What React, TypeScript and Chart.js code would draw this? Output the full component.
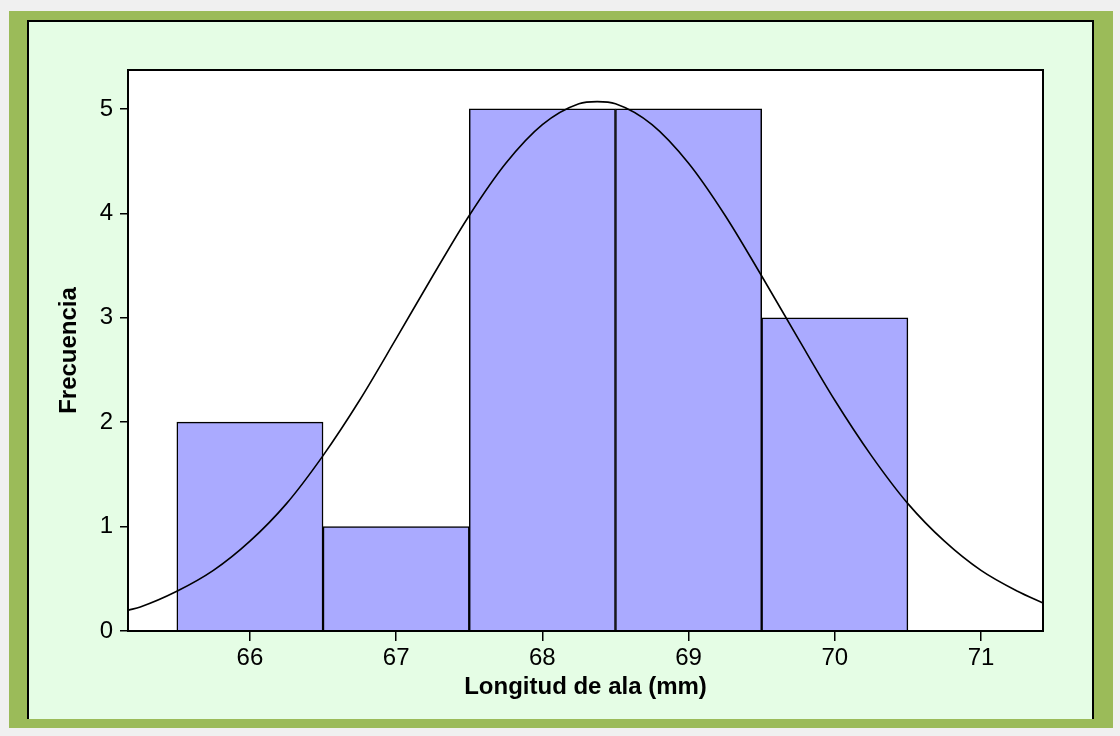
import React, { useEffect, useRef } from "react";
import { Chart, registerables } from "chart.js";

Chart.register(...registerables);

// Histogram bins (centres, mm) and counts
const binCenters = [66, 67, 68, 69, 70];
const frequencies = [2, 1, 5, 5, 3];

// Fitted normal curve, sampled along the axis
const curveX = [
  65.17, 65.25, 65.5, 65.75, 66.0, 66.25, 66.5, 66.75, 67.0, 67.25, 67.5, 67.75, 68.0, 68.25,
  68.375, 68.5, 68.75, 69.0, 69.25, 69.5, 69.75, 70.0, 70.25, 70.5, 70.75, 71.0, 71.25, 71.42,
];
const curveY = [
  0.2, 0.23, 0.38, 0.58, 0.86, 1.22, 1.68, 2.21, 2.8, 3.4, 3.98, 4.48, 4.85, 5.05,
  5.07, 5.05, 4.85, 4.48, 3.98, 3.4, 2.8, 2.21, 1.68, 1.22, 0.86, 0.58, 0.38, 0.27,
];

const xTicks = [66, 67, 68, 69, 70, 71];
const yTicks = [0, 1, 2, 3, 4, 5];

const xTitle = "Longitud de ala (mm)";
const yTitle = "Frecuencia";

const FONT = "'Liberation Sans', Arial, sans-serif";

// White plot area with a black frame around it
const plotFrame = {
  id: "plotFrame",
  beforeDatasetsDraw(chart: any) {
    const { ctx, chartArea } = chart;
    ctx.save();
    ctx.fillStyle = "#fff";
    ctx.fillRect(chartArea.left, chartArea.top, chartArea.right - chartArea.left, chartArea.bottom - chartArea.top);
    ctx.restore();
  },
  afterDatasetsDraw(chart: any) {
    const { ctx, chartArea } = chart;
    ctx.save();
    ctx.strokeStyle = "#000";
    ctx.lineWidth = 2;
    ctx.strokeRect(chartArea.left, chartArea.top, chartArea.right - chartArea.left, chartArea.bottom - chartArea.top);
    ctx.restore();
  },
};

export default function App() {
  const canvasRef = useRef<HTMLCanvasElement | null>(null);

  useEffect(() => {
    if (!canvasRef.current) return;
    const chart = new Chart(canvasRef.current, {
      type: "bar",
      data: {
        datasets: [
          {
            type: "line",
            data: curveX.map((x, i) => ({ x, y: curveY[i] })),
            borderColor: "#000",
            borderWidth: 1.6,
            pointRadius: 0,
            cubicInterpolationMode: "monotone",
            fill: false,
            order: 0,
          } as any,
          {
            type: "bar",
            data: binCenters.map((x, i) => ({ x, y: frequencies[i] })),
            backgroundColor: "#aaaaff",
            borderColor: "#000",
            borderWidth: 1.5,
            barPercentage: 1,
            categoryPercentage: 1,
            grouped: false,
            order: 1,
          } as any,
        ],
      },
      options: {
        responsive: false,
        animation: false,
        devicePixelRatio: 1,
        layout: { padding: { left: 55, top: 70, right: 77, bottom: 34 } },
        plugins: { legend: { display: false }, tooltip: { enabled: false } },
        scales: {
          x: {
            type: "linear",
            min: 65.166,
            max: 71.424,
            offset: false,
            afterBuildTicks: (s: any) => {
              s.ticks = xTicks.map((v) => ({ value: v }));
            },
            afterFit: (s: any) => {
              s.height = 71;
            },
            grid: {
              display: true,
              drawOnChartArea: false,
              drawTicks: true,
              tickLength: 10,
              color: "#000",
              lineWidth: 1.5,
              offset: false,
            },
            border: { display: true, color: "#000", width: 2 },
            ticks: {
              color: "#000",
              padding: 3,
              maxRotation: 0,
              font: { family: FONT, size: 24 },
              callback: (v: any) => String(v),
            },
            title: {
              display: true,
              text: xTitle,
              color: "#000",
              padding: 0,
              font: { family: FONT, size: 24, weight: "bold" },
            },
          },
          y: {
            type: "linear",
            min: 0,
            max: 5.373,
            afterBuildTicks: (s: any) => {
              s.ticks = yTicks.map((v) => ({ value: v }));
            },
            afterFit: (s: any) => {
              s.width = 73;
            },
            grid: {
              display: true,
              drawOnChartArea: false,
              drawTicks: true,
              tickLength: 8,
              color: "#000",
              lineWidth: 1.5,
            },
            border: { display: true, color: "#000", width: 2 },
            ticks: {
              color: "#000",
              padding: 7,
              font: { family: FONT, size: 24 },
              callback: (v: any) => String(v),
            },
            title: {
              display: true,
              text: yTitle,
              color: "#000",
              padding: 0,
              font: { family: FONT, size: 24, weight: "bold" },
            },
          },
        },
      },
      plugins: [plotFrame],
    } as any);
    return () => chart.destroy();
  }, []);

  return (
    <div style={{ position: "fixed", inset: 0, width: 1120, height: 736, background: "#f0f0f0", overflow: "hidden" }}>
      <div
        style={{
          position: "absolute",
          left: 9,
          top: 11,
          width: 1104,
          height: 717,
          background: "#9bbb59",
        }}
      />
      <div
        style={{
          position: "absolute",
          left: 27,
          top: 20,
          width: 1067,
          height: 699,
          boxSizing: "border-box",
          background: "#e5fde5",
          borderLeft: "2px solid #000",
          borderTop: "2px solid #000",
          borderRight: "2px solid #000",
        }}
      />
      <canvas
        ref={canvasRef}
        width={1120}
        height={736}
        style={{ position: "absolute", left: 0, top: 0, width: 1120, height: 736 }}
      />
    </div>
  );
}
